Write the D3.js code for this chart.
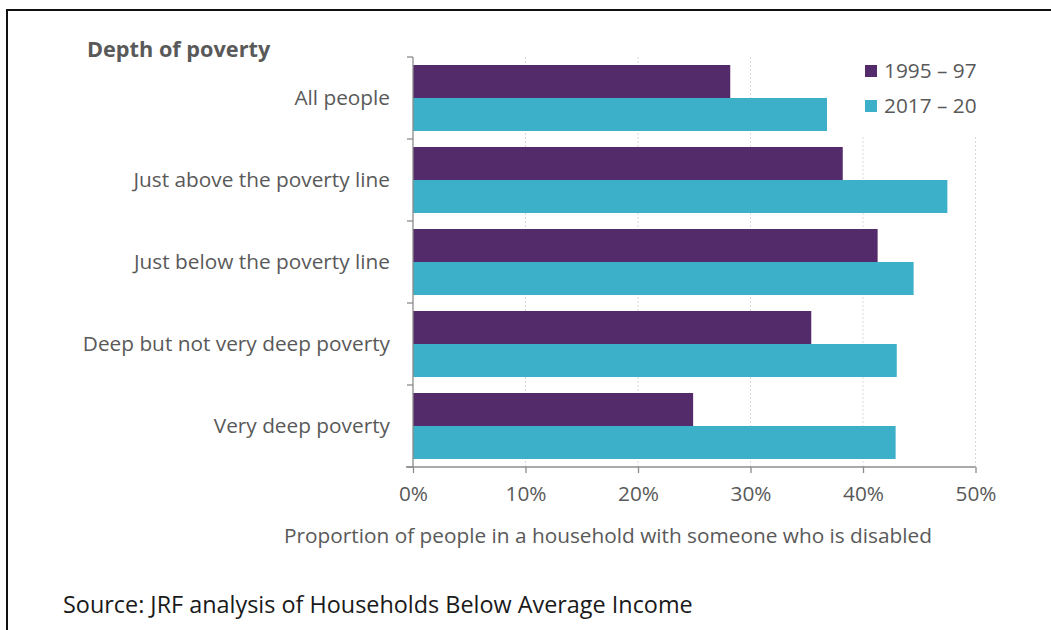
<!DOCTYPE html>
<html>
<head>
<meta charset="utf-8">
<script src="https://cdn.jsdelivr.net/npm/d3@7"></script>
<style>
  html, body { margin: 0; padding: 0; background: #fff; }
  svg { display: block; }
  text { font-family: "Open Sans", Lato, sans-serif; }
</style>
</head>
<body>
<svg id="chart" width="1051" height="630"></svg>
<script>
// Share of people living with a disabled household member, by depth of poverty
const categories = [
  "All people",
  "Just above the poverty line",
  "Just below the poverty line",
  "Deep but not very deep poverty",
  "Very deep poverty"
];
const seriesNames = ["1995 \u2013 97", "2017 \u2013 20"];
const values1995 = [28.2, 38.2, 41.3, 35.4, 24.9];
const values2017 = [36.8, 47.5, 44.5, 43.0, 42.9];
const xTicks = [0, 10, 20, 30, 40, 50];
const colors = ["#532b6b", "#3db0c9"];

const svg = d3.select("#chart");
const W = 1051, H = 630;
const plotLeft = 413, plotRight = 975.5, plotTop = 57, plotBottom = 467;
const textGrey = "#595959";
const axisGrey = "#8c8c8c";
const labelSize = 20.8;

// outer frame (top and left edges)
svg.append("path")
  .attr("d", `M7,${H} V10 H${W}`)
  .attr("fill", "none")
  .attr("stroke", "#111")
  .attr("stroke-width", 2);

const x = d3.scaleLinear().domain([0, 50]).range([plotLeft, plotRight]);
const y = d3.scaleBand().domain(categories).range([plotTop, plotBottom])
  .paddingInner(0.195).paddingOuter(0.0975);
const sub = d3.scaleBand().domain([0, 1]).range([0, y.bandwidth()]);

// dotted vertical gridlines
svg.append("g").selectAll("line")
  .data(xTicks.filter(d => d > 0))
  .join("line")
  .attr("x1", d => x(d)).attr("x2", d => x(d))
  .attr("y1", plotTop).attr("y2", plotBottom)
  .attr("stroke", "#d9d9d9")
  .attr("stroke-width", 1)
  .attr("stroke-dasharray", "2,2");

// bars
const rows = categories.map((c, i) => ({ c, v: [values1995[i], values2017[i]] }));
const groups = svg.append("g").selectAll("g")
  .data(rows).join("g")
  .attr("transform", d => `translate(0,${y(d.c)})`);
groups.selectAll("rect")
  .data(d => d.v.map((v, k) => ({ v, k })))
  .join("rect")
  .attr("x", x(0))
  .attr("y", d => sub(d.k))
  .attr("width", d => x(d.v) - x(0))
  .attr("height", sub.bandwidth())
  .attr("fill", d => colors[d.k]);

// category axis
const yAxis = svg.append("g")
  .attr("transform", `translate(${plotLeft},0)`);
yAxis.append("line")
  .attr("x1", 0).attr("x2", 0).attr("y1", plotTop).attr("y2", plotBottom)
  .attr("stroke", axisGrey).attr("stroke-width", 1.3);
const bounds = categories.map(c => y(c) - y.step() * y.paddingInner() / 2).concat([plotBottom]);
yAxis.selectAll("line.tick")
  .data(bounds).join("line").attr("class", "tick")
  .attr("x1", -6).attr("x2", 0)
  .attr("y1", d => d).attr("y2", d => d)
  .attr("stroke", axisGrey).attr("stroke-width", 1.3);
yAxis.selectAll("text")
  .data(categories).join("text")
  .attr("x", -23)
  .attr("y", d => y(d) + y.bandwidth() / 2)
  .attr("dy", "0.35em")
  .attr("text-anchor", "end")
  .attr("fill", textGrey)
  .attr("font-size", labelSize)
  .text(d => d);

// value axis
const xAxis = svg.append("g")
  .attr("transform", `translate(0,${plotBottom})`)
  .call(d3.axisBottom(x).tickValues(xTicks).tickFormat(d => d + "%").tickSize(6).tickPadding(13));
xAxis.select(".domain")
  .attr("d", `M${plotLeft - 7},0H${plotRight}`)
  .attr("stroke", axisGrey).attr("stroke-width", 1.3);
xAxis.selectAll(".tick line").attr("stroke", axisGrey).attr("stroke-width", 1.3);
xAxis.selectAll(".tick text")
  .attr("fill", textGrey)
  .attr("font-size", labelSize)
  .attr("font-family", "'Open Sans', Lato, sans-serif");

svg.append("text")
  .attr("x", 608).attr("y", 543)
  .attr("text-anchor", "middle")
  .attr("fill", textGrey)
  .attr("font-size", labelSize)
  .text("Proportion of people in a household with someone who is disabled");

// chart heading
svg.append("text")
  .attr("x", 87).attr("y", 57)
  .attr("fill", textGrey)
  .attr("font-size", 21.7)
  .attr("font-weight", "bold")
  .text("Depth of poverty");

// legend
const legend = svg.append("g");
legend.append("rect")
  .attr("x", 855).attr("y", plotTop).attr("width", 135).attr("height", 80)
  .attr("fill", "#fff");
seriesNames.forEach((name, i) => {
  const ly = 71 + i * 35;
  legend.append("rect")
    .attr("x", 865).attr("y", ly - 6).attr("width", 12).attr("height", 12)
    .attr("fill", colors[i]);
  legend.append("text")
    .attr("x", 884).attr("y", ly)
    .attr("dy", "0.35em")
    .attr("fill", textGrey)
    .attr("font-size", labelSize)
    .text(name);
});

// source note
svg.append("text")
  .attr("x", 63).attr("y", 613)
  .attr("fill", "#1a1a1a")
  .attr("font-size", 23.4)
  .text("Source: JRF analysis of Households Below Average Income");
</script>
</body>
</html>
